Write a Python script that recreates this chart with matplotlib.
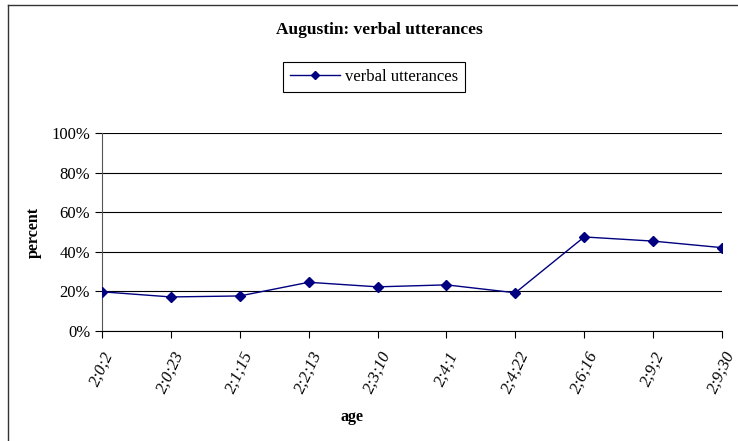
import numpy as np
from matplotlib import pyplot as plt
from matplotlib.lines import Line2D
from matplotlib.ticker import PercentFormatter

ages = ['2;0;2', '2;0;23', '2;1;15', '2;2;13', '2;3;10', '2;4;1', '2;4;22', '2;6;16', '2;9;2', '2;9;30']
verbal = [19.8, 17.2, 17.7, 24.6, 22.3, 23.3, 19.3, 47.5, 45.4, 42.1]

plt.rcParams['font.family'] = ['Liberation Serif', 'DejaVu Serif']

fig = plt.figure(figsize=(7.38, 4.41), dpi=100)
ax = fig.add_axes([102 / 738, 1 - 331 / 441, 620 / 738, 198 / 441])

x = np.arange(len(ages))
ax.plot(x, verbal, color='#000080', lw=1, marker='D', ms=5, label='verbal utterances', zorder=3)

ax.set_xlim(0, len(ages) - 1)
ax.set_ylim(0, 100)
ax.set_yticks(np.arange(0, 101, 20))
ax.yaxis.set_major_formatter(PercentFormatter(decimals=0))
ax.grid(axis='y', color='black', lw=0.8)
for s in ['top', 'right']:
    ax.spines[s].set_visible(False)
ax.spines['left'].set_color('#555555')
ax.spines['bottom'].set_color('black')
ax.set_xticks(x)
ax.set_xticklabels(ages, rotation=65, style='italic', ha='center', va='top')
ax.tick_params(axis='both', labelsize=12, length=5, direction='out')
ax.tick_params(axis='x', pad=8)

ax.set_xlabel('age', fontsize=11.5, fontweight='bold')
ax.xaxis.set_label_coords((352 - 102) / 620, -(409 - 331) / 198)
ax.set_ylabel('percent', fontsize=11.5, fontweight='bold')
ax.yaxis.set_label_coords(-(102 - 42) / 620, 0.5)

fig.text(379 / 738, 1 - 30 / 441, 'Augustin: verbal utterances', ha='center', va='center',
         fontsize=12.5, fontweight='bold')

leg = fig.legend(loc='center', bbox_to_anchor=(374 / 738, 1 - 77 / 441), fontsize=12,
                 fancybox=False, edgecolor='black', framealpha=1, handlelength=3.0,
                 handletextpad=0.3, borderpad=0.4, borderaxespad=0, markerscale=0.8)
leg.get_frame().set_linewidth(0.8)

# chart border: only the left and top edges fall inside the image
fig.add_artist(Line2D([8 / 738, 8 / 738], [0, 1 - 5 / 441], transform=fig.transFigure, color='#333333', lw=1))
fig.add_artist(Line2D([8 / 738, 1], [1 - 5 / 441, 1 - 5 / 441], transform=fig.transFigure, color='#333333', lw=1))

plt.savefig('out.png', dpi=100)
